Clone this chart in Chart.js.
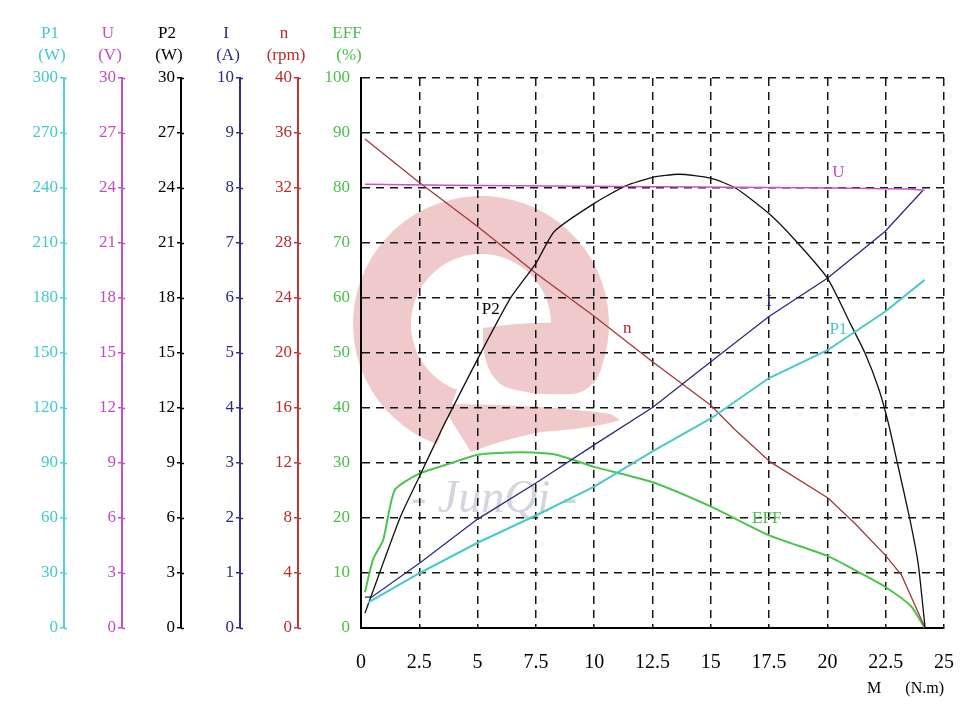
<!DOCTYPE html>
<html><head><meta charset="utf-8">
<style>html,body{margin:0;padding:0;background:#fff;}canvas{display:block;}</style>
<script src="https://cdn.jsdelivr.net/npm/chart.js@4.4.1/dist/chart.umd.min.js"></script>
</head><body>
<canvas id="c" width="977" height="711"></canvas>
<script>
// ---- tick labels ----
const xTicks   = ['0','2.5','5','7.5','10','12.5','15','17.5','20','22.5','25'];
const p1Ticks  = ['0','30','60','90','120','150','180','210','240','270','300'];
const uTicks   = ['0','3','6','9','12','15','18','21','24','27','30'];
const p2Ticks  = ['0','3','6','9','12','15','18','21','24','27','30'];
const iTicks   = ['0','1','2','3','4','5','6','7','8','9','10'];
const nTicks   = ['0','4','8','12','16','20','24','28','32','36','40'];
const effTicks = ['0','10','20','30','40','50','60','70','80','90','100'];

// ---- series (torque M in N.m) ----
const uM   = [0.17, 3.7, 9.5, 19.2, 23.5, 24.17];
const uV   = [24.21, 24.15, 24.1, 24.02, 23.95, 23.88];

const nM   = [0.17, 2.5, 5, 7.5, 10, 12.5, 15, 16.05, 17.55, 20.04, 21.18, 22.47, 23.18, 24.19];
const nRpm = [35.56, 32.4, 29.2, 25.8, 22.68, 19.36, 16.2, 14.4, 12.08, 9.44, 7.6, 5.32, 3.84, 0];

const iM   = [0.17, 0.45, 2.52, 5.0, 7.52, 10.0, 12.5, 15.0, 17.48, 20.0, 22.47, 24.1];
const iA   = [0.56, 0.56, 1.18, 1.98, 2.64, 3.33, 4.01, 4.84, 5.66, 6.36, 7.21, 7.96];

const p1M  = [0.3, 2.52, 5, 7.52, 10, 12.5, 15, 17.48, 20, 22.47, 24.17];
const p1W  = [13.8, 30, 46.5, 61.5, 77.1, 96.3, 114.3, 136.2, 151.5, 172.5, 189.9];

const p2M  = [0.17, 1.67, 2.5, 3.45, 3.95, 5.16, 6.44, 7.5, 8.29, 10.0, 11.35, 12.48, 13.63, 14.99, 16.06, 17.48, 18.62, 20.0, 21.0, 21.61, 22.2, 22.6, 23.0, 23.53, 23.89, 24.19];
const p2W  = [0.81, 6.0, 8.25, 10.8, 12.06, 15.06, 18.06, 19.89, 21.63, 23.16, 24.12, 24.57, 24.75, 24.54, 24.0, 22.62, 21.15, 19.08, 16.56, 15.0, 13.05, 11.25, 9.0, 5.97, 3.54, 0];

const effM   = [0.17, 0.51, 0.95, 1.45, 2.52, 3.8, 5.01, 6.37, 7.36, 8.36, 10, 12.5, 14.99, 17.48, 20, 21.32, 22.47, 23.6, 24.17];
const effPct = [6.5, 12.4, 16, 25.1, 28.1, 29.9, 31.5, 31.9, 31.9, 31.5, 29.3, 26.5, 22.1, 16.9, 13.1, 10.2, 7.5, 3.9, 0];

// ---- curve name labels (in M / EFF% units) ----
const curveLabels = [
  {text:'U',   x:20.47, y:82.8, color:'#c24ac2'},
  {text:'P2',  x:5.56,  y:57.9, color:'#000000'},
  {text:'n',   x:11.42, y:54.5, color:'#a82828'},
  {text:'I',   x:17.49, y:59.3, color:'#2a2a7a'},
  {text:'P1',  x:20.47, y:54.2, color:'#45c8cc'},
  {text:'EFF', x:17.4,  y:19.9, color:'#48c048'}
];

const axisTitles = [
  {id:'yP1', lines:['P1','(W)'],  color:'#45c8d0'},
  {id:'yU',  lines:['U','(V)'],   color:'#c04cc0'},
  {id:'yP2', lines:['P2','(W)'],  color:'#000000'},
  {id:'yI',  lines:['I','(A)'],   color:'#2c2c7c'},
  {id:'yN',  lines:['n','(rpm)'], color:'#b82c2c'},
  {id:'yEff',lines:['EFF','(%)'], color:'#48c048'}
];

const serif = "'Liberation Serif','Times New Roman',serif";
const pts = (xs, ys) => xs.map((x, i) => ({x: x, y: ys[i]}));
const DASH = [8, 6];
const GRID = '#161616';

function sideAxis(color, lineColor, max, step, labels, weight, width) {
  return {
    type: 'linear', position: 'left', weight: weight, min: 0, max: max,
    ticks: {stepSize: step, color: color, font: {family: serif, size: 17}, padding: 2,
            autoSkip: false, callback: (v, i) => labels[i]},
    grid: {drawOnChartArea: false, color: lineColor, tickLength: 4, lineWidth: 1.5},
    border: {color: lineColor, width: 2},
    afterFit: (s) => { s.width = width; }
  };
}

function ds(label, data, axis, color, width, tension) {
  return {label: label, data: data, yAxisID: axis, borderColor: color, backgroundColor: color,
          borderWidth: width, pointRadius: 0, fill: false, tension: tension};
}

const deco = {
  id: 'deco',
  beforeDraw(chart) {
    const ctx = chart.ctx, ca = chart.chartArea;
    ctx.save();
    ctx.fillStyle = '#ffffff';
    ctx.fillRect(0, 0, chart.width, chart.height);
    // watermark logo (decoration)
    const L = ca.left, T = ca.top;
    const cx = L + 120, cy = T + 246;
    const r = d => d * Math.PI / 180;
    ctx.fillStyle = '#f0caca';
    ctx.beginPath();
    ctx.arc(cx, cy, 128, r(110), r(388));
    ctx.arc(cx, cy, 70, r(388), r(110), true);
    ctx.closePath();
    ctx.fill();
    // tongue
    ctx.beginPath();
    ctx.moveTo(L + 122, T + 250);
    ctx.quadraticCurveTo(L + 160, T + 244, L + 202, T + 245);
    ctx.lineTo(L + 240, T + 252);
    ctx.lineTo(L + 240, T + 292);
    ctx.quadraticCurveTo(L + 230, T + 314, L + 212, T + 316);
    ctx.quadraticCurveTo(L + 170, T + 318, L + 144, T + 309);
    ctx.quadraticCurveTo(L + 120, T + 296, L + 122, T + 250);
    ctx.closePath();
    ctx.fill();
    // tail
    ctx.beginPath();
    ctx.moveTo(L + 80, T + 326);
    ctx.quadraticCurveTo(L + 180, T + 326, L + 250, T + 336);
    ctx.lineTo(L + 259, T + 342);
    ctx.quadraticCurveTo(L + 235, T + 350, L + 180, T + 354);
    ctx.quadraticCurveTo(L + 140, T + 362, L + 110, T + 374);
    ctx.closePath();
    ctx.fill();
    // watermark text
    ctx.fillStyle = '#d4d4dc';
    ctx.font = "italic 46px " + serif;
    ctx.textAlign = 'center';
    ctx.textBaseline = 'alphabetic';
    ctx.fillText('- JunQi -', L + 133, T + 434);
    ctx.restore();
  },
  afterDatasetsDraw(chart) {
    const ctx = chart.ctx, xs = chart.scales.x, ys = chart.scales.yEff;
    ctx.save();
    ctx.font = "17px " + serif;
    ctx.textAlign = 'center';
    ctx.textBaseline = 'middle';
    curveLabels.forEach(l => {
      ctx.fillStyle = l.color;
      ctx.fillText(l.text, xs.getPixelForValue(l.x), ys.getPixelForValue(l.y));
    });
    ctx.restore();
  },
  afterDraw(chart) {
    const ctx = chart.ctx, ca = chart.chartArea;
    ctx.save();
    ctx.font = "17px " + serif;
    ctx.textAlign = 'center';
    ctx.textBaseline = 'middle';
    axisTitles.forEach(a => {
      const s = chart.scales[a.id];
      ctx.fillStyle = a.color;
      ctx.fillText(a.lines[0], s.right - 14, ca.top - 44);
      ctx.fillText(a.lines[1], s.right - 12, ca.top - 22);
      if (a.id !== 'yEff') {
        ctx.strokeStyle = s.options.border.color;
        ctx.lineWidth = 1.5;
        s.ticks.forEach(t => {
          const py = Math.round(s.getPixelForValue(t.value)) + 0.5;
          ctx.beginPath();
          ctx.moveTo(s.right, py);
          ctx.lineTo(s.right + 3, py);
          ctx.stroke();
        });
      }
    });
    ctx.restore();
  }
};

new Chart(document.getElementById('c'), {
  type: 'line',
  data: {
    datasets: [
      ds('P1',  pts(p1M, p1W),     'yP1',  '#48c9cc', 2, 0),
      ds('U',   pts(uM, uV),       'yU',   '#c850c8', 1.5, 0),
      ds('P2',  pts(p2M, p2W),     'yP2',  '#111111', 1.3, 0.2),
      ds('I',   pts(iM, iA),       'yI',   '#2b2b7b', 1.3, 0),
      ds('n',   pts(nM, nRpm),     'yN',   '#a03a3a', 1.3, 0),
      ds('EFF', pts(effM, effPct), 'yEff', '#4cc44c', 2, 0.2)
    ]
  },
  options: {
    responsive: false, animation: false, devicePixelRatio: 1,
    layout: {padding: {left: 0, right: 31, top: 78, bottom: 0}},
    plugins: {legend: {display: false}, tooltip: {enabled: false}},
    scales: {
      x: {
        type: 'linear', min: 0, max: 25,
        ticks: {stepSize: 2.5, color: '#000', font: {family: serif, size: 20}, padding: 23,
                maxRotation: 0, autoSkip: false, callback: (v, i) => xTicks[i]},
        grid: {color: GRID, lineWidth: 1.5, drawTicks: false},
        border: {color: '#000', width: 2, dash: DASH},
        title: {display: true, text: 'M      (N.m)', align: 'end', color: '#000',
                font: {family: serif, size: 16}, padding: {top: 0, bottom: 13}},
        afterFit: (s) => { s.height = 83; }
      },
      yP1: sideAxis('#45c8d0', '#50d0d8', 300, 30, p1Ticks, 60, 64),
      yU:  sideAxis('#c04cc0', '#c050c8', 30, 3, uTicks, 50, 58),
      yP2: sideAxis('#000000', '#000000', 30, 3, p2Ticks, 40, 59),
      yI:  sideAxis('#2c2c7c', '#303080', 10, 1, iTicks, 30, 59),
      yN:  sideAxis('#b82c2c', '#b83a3a', 40, 4, nTicks, 20, 58),
      yEff: {
        type: 'linear', position: 'left', weight: 10, min: 0, max: 100,
        ticks: {stepSize: 10, color: '#48c048', font: {family: serif, size: 17}, padding: 11,
                autoSkip: false, callback: (v, i) => effTicks[i]},
        grid: {color: GRID, lineWidth: 1.5, drawTicks: false},
        border: {color: '#000', width: 2, dash: DASH},
        afterFit: (s) => { s.width = 63; }
      }
    }
  },
  plugins: [deco]
});
</script>
</body></html>
